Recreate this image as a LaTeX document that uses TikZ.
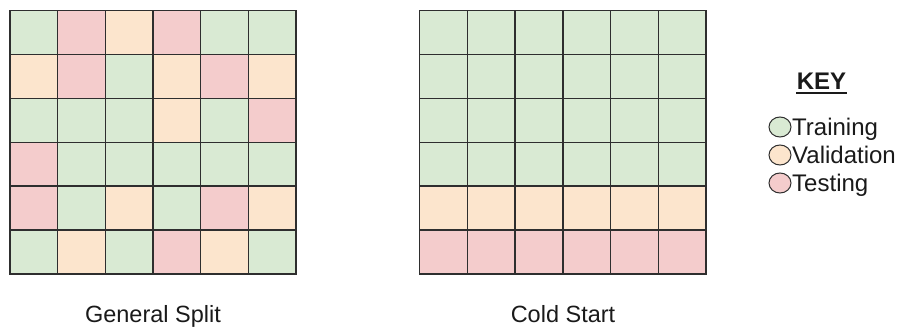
\documentclass[tikz,border=0pt]{standalone}
\usepackage{fontspec}
\setmainfont{Liberation Sans}
\usetikzlibrary{shapes.geometric}
\definecolor{trg}{HTML}{D9EAD3}
\definecolor{val}{HTML}{FCE5CD}
\definecolor{tst}{HTML}{F4CCCC}
\definecolor{gline}{HTML}{2E2E2E}
\definecolor{txt}{HTML}{1A1A1A}
\tikzset{
  gridline/.style={draw=gline, line width=1.4pt, line cap=rect},
  keydot/.style={ellipse, draw=gline, line width=1pt, minimum width=22pt, minimum height=20pt, inner sep=0pt},
  keytext/.style={anchor=base west, inner sep=0pt, text=txt, font=\fontsize{24}{28}\selectfont},
  caption/.style={anchor=base, inner sep=0pt, text=txt, font=\fontsize{23.5}{27}\selectfont}
}
\begin{document}
\begin{tikzpicture}[x=1pt,y=-1pt]
\useasboundingbox (0,0) rectangle (902,329);
\fill[white] (0,0) rectangle (902,329);
% General Split grid
\foreach \row [count=\r from 0] in {{trg,tst,val,tst,trg,trg},{val,tst,trg,val,tst,val},{trg,trg,trg,val,trg,tst},{tst,trg,trg,trg,trg,trg},{tst,trg,val,trg,tst,val},{trg,val,trg,tst,val,trg}}{
  \foreach \c [count=\k from 0] in \row {
    \fill[\c] ({10+\k*47.667},{10.5+\r*43.917}) rectangle ++(47.667,43.917);
  }
}
% Cold Start grid
\foreach \row [count=\r from 0] in {{trg,trg,trg,trg,trg,trg},{trg,trg,trg,trg,trg,trg},{trg,trg,trg,trg,trg,trg},{trg,trg,trg,trg,trg,trg},{val,val,val,val,val,val},{tst,tst,tst,tst,tst,tst}}{
  \foreach \c [count=\k from 0] in \row {
    \fill[\c] ({419.7+\k*47.717},{10.5+\r*43.917}) rectangle ++(47.717,43.917);
  }
}
% grid lines
\foreach \i in {0,...,6}{
  \draw[gridline] ({10+\i*47.667},10.5) -- ({10+\i*47.667},274);
  \draw[gridline] (10,{10.5+\i*43.917}) -- (296,{10.5+\i*43.917});
  \draw[gridline] ({419.7+\i*47.717},10.5) -- ({419.7+\i*47.717},274);
  \draw[gridline] (419.7,{10.5+\i*43.917}) -- (706,{10.5+\i*43.917});
}
% captions
\node[caption] (gs) at (153,322) {General Split};
\node[caption] (cs) at (563,322) {Cold Start};
% key
\node[anchor=base, inner sep=0pt, text=txt, font=\fontsize{24}{28}\selectfont\bfseries] (key) at (821.5,89) {KEY};
\draw[txt, line width=2pt] ([xshift=-0.5pt,yshift=-4pt]key.base west) -- ([xshift=0.5pt,yshift=-4pt]key.base east);
\node[keydot, fill=trg] (d1) at (780,127) {};
\node[keydot, fill=val] (d2) at (780,155) {};
\node[keydot, fill=tst] (d3) at (780,183) {};
\node[keytext] (t1) at (792,135) {Training};
\node[keytext] (t2) at (792,163) {Validation};
\node[keytext] (t3) at (792,191) {Testing};
\end{tikzpicture}
\end{document}
